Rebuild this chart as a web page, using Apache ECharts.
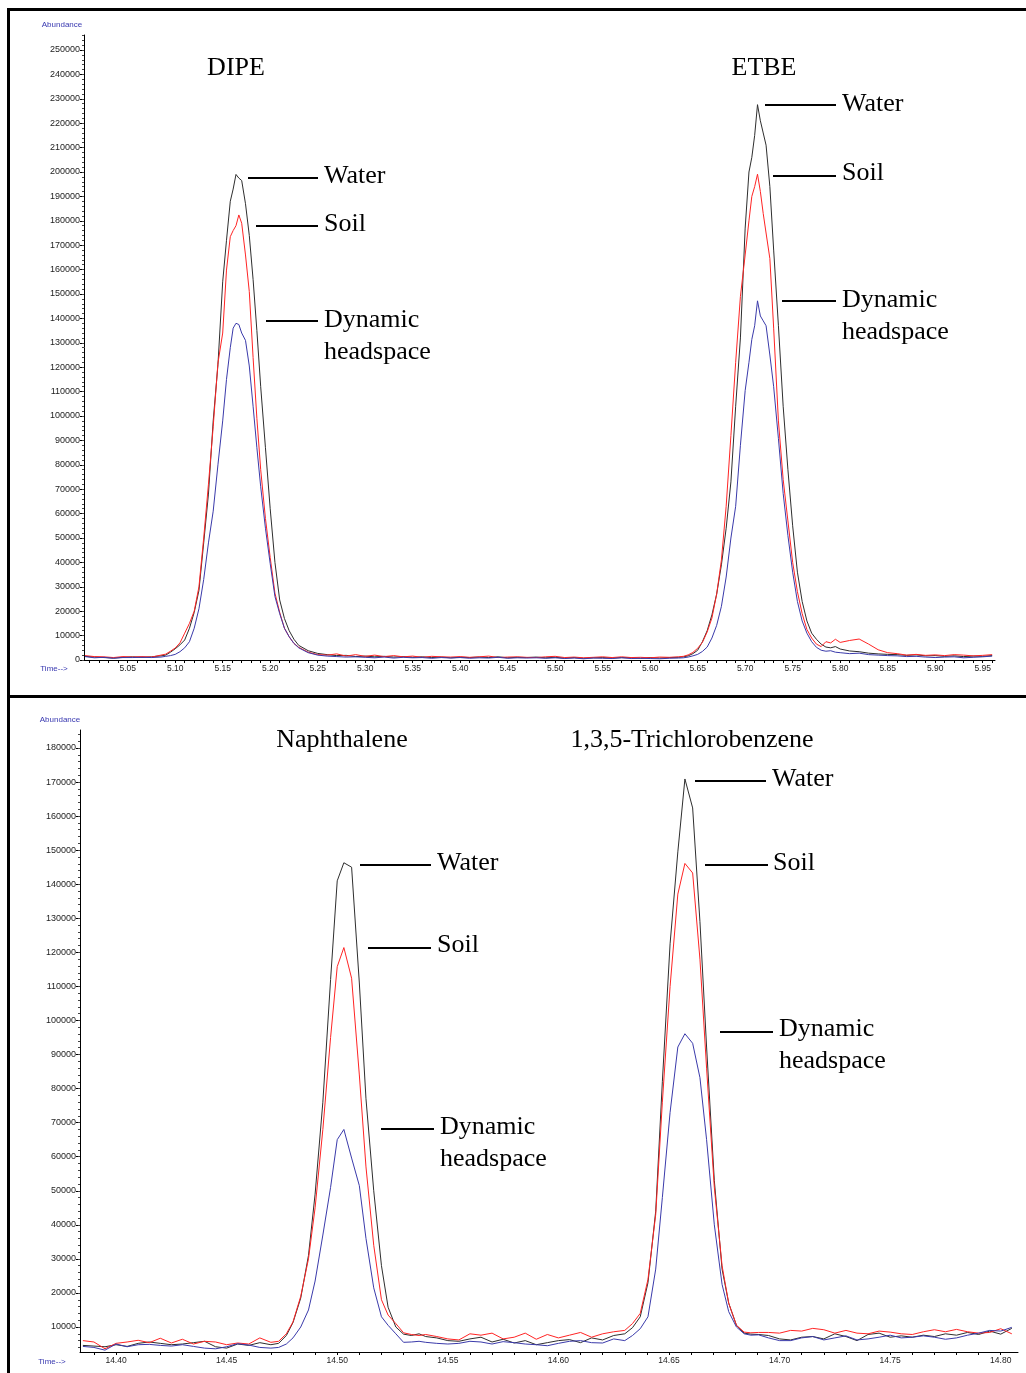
<!DOCTYPE html>
<html><head><meta charset="utf-8">
<script src="https://cdn.jsdelivr.net/npm/echarts@6/dist/echarts.min.js"></script>
<style>html,body{margin:0;padding:0;background:#fff}#c{width:1026px;height:1373px}</style>
</head><body><div id="c"></div><script>
// ---------- TOP PANEL (DIPE / ETBE) ----------
const topTime = [
  5.005,5.015,5.025,5.035,5.045,5.055,5.065,5.075,5.085,
  5.090,5.095,5.100,5.105,5.110,5.115,5.120,5.125,5.130,5.135,5.140,5.145,5.150,5.154,5.158,5.161,5.164,5.167,5.170,5.174,5.178,5.182,5.186,5.190,5.195,5.200,5.205,5.210,5.215,5.220,5.225,5.230,5.240,5.250,
  5.260,5.270,5.280,5.290,5.300,5.310,5.320,5.330,5.340,5.350,5.360,5.370,5.380,5.390,5.400,5.410,5.420,5.430,5.440,5.450,5.460,5.470,5.480,5.490,5.500,5.510,5.520,5.530,5.540,5.550,5.560,5.570,5.580,5.590,5.600,5.610,5.620,5.630,
  5.635,5.640,5.645,5.650,5.655,5.660,5.665,5.670,5.675,5.680,5.685,5.690,5.695,5.700,5.704,5.707,5.710,5.713,5.716,5.719,5.722,5.726,5.730,5.735,5.740,5.745,5.750,5.755,5.760,5.765,5.770,5.775,5.780,5.785,5.790,5.795,5.800,5.810,5.820,5.830,5.840,5.850,
  5.860,5.870,5.880,5.890,5.900,5.910,5.920,5.930,5.940,5.950,5.960
];
const topWater = [
  1500,1200,1000,800,1100,1300,1100,1300,1700,
  2000,3200,4600,6200,8200,13000,19500,28500,48000,68000,98000,121000,155000,172000,188000,193000,199000,197500,196500,187000,174000,156000,135000,112000,87000,62000,40000,24600,17000,12000,8500,6000,3800,2700,
  2200,1800,1900,1400,1600,1300,1500,1200,1400,1100,1300,1000,1200,900,1100,1000,1200,1000,1300,900,1100,1000,1200,900,1100,800,1000,700,900,1000,800,1000,900,700,1000,800,1000,1100,
  1300,1700,2600,4000,7500,12000,18500,27000,39000,54000,73000,104000,132000,177000,200000,206000,215000,227600,221000,216000,211000,194000,168000,137000,104000,78000,55000,36000,24000,16000,11000,8500,6500,5300,5000,5500,4500,3700,3400,2800,2500,2300,
  2200,1900,2100,1700,1800,1500,1700,1400,1600,1500,1800
];
const topSoil = [
  1800,1400,1300,1000,1400,1200,1400,1200,2000,
  2400,3600,4900,7000,11000,15000,20000,30000,50000,72000,95600,121700,134000,159800,173500,176000,178000,182400,179000,166000,151000,124000,99000,78000,58000,42000,27400,19500,13000,9500,6800,5200,3200,2200,
  2000,2500,1600,2200,1500,2000,1400,1800,1300,1600,1100,1500,1300,1200,1400,1100,1300,1600,1000,1200,1300,1100,1000,1300,1500,1000,1200,900,1100,1300,1000,1300,1000,1100,900,1200,1100,1300,
  1500,2100,3100,4800,7200,11500,17200,27000,41000,63000,92000,122000,149000,166000,180000,190000,194000,199100,192000,183000,175000,164500,136000,98000,74000,57000,40000,28000,19000,12500,9000,6500,5500,7500,7000,8500,7200,8000,8600,6500,4200,3000,
  2600,2000,2300,1900,2100,1800,2200,2000,1700,1900,2200
];
const topDynamic = [
  1400,900,1100,700,1000,1000,1100,1000,1200,
  1500,1800,2300,3400,5000,7500,13000,21000,33000,48000,61000,80000,98000,115000,128000,136000,138000,137500,134000,131000,120500,104000,87000,71000,54000,39500,26000,19000,13000,9500,6800,5000,3000,2000,
  1600,1400,1200,1300,1100,900,1200,800,1100,900,1000,700,1000,800,1000,700,900,800,1100,700,900,800,900,700,900,600,800,500,800,700,600,900,600,700,600,500,700,800,
  900,1200,1700,2300,3500,5300,9000,14200,22000,34000,50000,63000,88000,110400,122000,131400,137000,147200,141000,139000,137000,125000,112000,90800,68300,51000,36000,24000,16000,11000,7500,5200,4000,3600,3800,3200,3000,2600,2800,2200,2000,1800,
  1700,1400,1500,1200,1000,1200,1300,900,1100,1300,1600
];
const topXLabels = [5.05,5.10,5.15,5.20,5.25,5.30,5.35,5.40,5.45,5.50,5.55,5.60,5.65,5.70,5.75,5.80,5.85,5.90,5.95];
const topYLabels = [0,10000,20000,30000,40000,50000,60000,70000,80000,90000,100000,110000,120000,130000,140000,150000,160000,170000,180000,190000,200000,210000,220000,230000,240000,250000];

// ---------- BOTTOM PANEL (Naphthalene / 1,3,5-Trichlorobenzene) ----------
const bottomTime = [
  14.385,14.390,14.395,14.400,14.405,14.410,14.415,14.420,14.425,14.430,14.435,14.440,14.445,14.450,14.455,14.460,14.465,
  14.470,14.4735,14.477,14.480,14.4835,14.487,14.490,14.4935,14.497,14.500,14.503,14.5065,14.510,14.513,14.5165,14.520,14.523,14.5265,14.530,14.5335,14.537,
  14.540,14.545,14.550,14.555,14.560,14.565,14.570,14.575,14.580,14.585,14.590,14.595,14.600,14.605,14.610,14.615,14.620,14.625,
  14.630,14.6335,14.637,14.6405,14.644,14.647,14.6505,14.654,14.6572,14.6607,14.664,14.667,14.6705,14.674,14.677,14.6805,14.684,14.687,14.6905,
  14.695,14.700,14.705,14.710,14.715,14.720,14.725,14.730,14.735,14.740,14.745,14.750,14.755,14.760,14.765,14.770,14.775,14.780,14.785,14.790,14.795,14.800,14.805
];
const bottomWater = [
  4600,4400,4200,4800,4300,5200,5600,5200,4800,5000,5400,5800,4200,3800,5000,4600,5400,
  4800,5200,7500,11300,18500,31000,49000,76000,112000,141000,146300,145000,111000,77000,50000,28000,15800,10000,7900,7500,8000,
  7200,6800,6000,5800,6500,7000,5600,6400,5300,6000,4800,5400,6000,6300,5400,6800,6200,7500,
  8000,9800,13000,23000,44000,82000,122500,149500,170900,162400,129000,92200,53000,27000,17000,10500,8200,7900,7800,
  7500,6500,6200,7000,7200,6500,8000,7200,6000,7800,8200,7000,7400,7000,7600,7200,8000,7600,8400,7800,8800,7900,9600
];
const bottomSoil = [
  6000,5600,3600,5200,5600,6100,5400,6700,5300,6400,5000,5800,5600,4800,5300,5000,6800,
  5500,5800,8000,11500,19000,30000,45000,68000,95000,115800,121400,112400,84000,57000,34000,18000,13500,11000,8300,7800,7500,
  7800,7200,6500,6200,8000,7600,8200,6500,7000,8200,6400,7800,6800,7600,8400,7000,8000,8600,
  9000,11000,14000,24000,43000,76000,110000,137100,146100,143300,118000,86000,51000,28000,17000,10500,8500,8300,8400,
  8400,8200,9000,8800,9600,9200,8200,9000,8200,8000,8800,8500,8000,7800,8600,9200,8600,9300,8600,8200,8400,9500,8000
];
const bottomDynamic = [
  4300,4000,3200,5000,4200,4800,4900,4600,4400,4800,4300,3800,3600,4200,5100,4700,4000,
  3800,4000,5000,6800,10000,15000,23500,37000,51000,65000,68000,59600,51500,36000,21500,13000,10500,8000,5500,5600,5800,
  5500,5200,5000,5200,5800,5600,5000,5700,5400,5000,4800,4500,5200,5800,6000,5400,5300,6500,
  6000,7500,9500,13000,27000,48000,73000,92200,96100,93300,83200,65000,40000,22500,14500,10000,8000,7600,7700,
  6800,6000,6000,6800,7200,6200,6800,7400,6200,6500,7000,7600,6800,7000,7400,7000,6400,6800,7600,8200,9000,8800,9900
];
const bottomXLabels = [14.40,14.45,14.50,14.55,14.60,14.65,14.70,14.75,14.80];
const bottomYLabels = [10000,20000,30000,40000,50000,60000,70000,80000,90000,100000,110000,120000,130000,140000,150000,160000,170000,180000];

// ---------- helpers ----------
function pairs(t, v) { return t.map((x, i) => [x, v[i]]); }
function minorBetween(labels, step, sub, lo, hi) {
  const out = [];
  const first = labels[0] - step, last = labels[labels.length - 1] + step;
  const n = Math.round((last - first) / (step / sub));
  for (let k = 0; k <= n; k++) {
    const v = Math.round((first + k * step / sub) * 1e6) / 1e6;
    if (v >= lo && v <= hi) out.push(v);
  }
  return out;
}
const topXTicks = minorBetween(topXLabels, 0.05, 5, 5.004, 5.963);
const bottomXTicks = minorBetween(bottomXLabels, 0.05, 5, 14.3837, 14.8078);
const topYMinor = minorBetween(topYLabels, 10000, 5, 0, 256150);
const bottomYMinor = minorBetween(bottomYLabels, 10000, 5, 2660, 185280);

const cWater = '#2e2e2e', cSoil = '#ff2424', cDyn = '#3a3aaa';
const tickFont = 'Liberation Sans';

function xAxisCfg(grid, min, max, ticks, labels) {
  return {
    gridIndex: grid, type: 'value', min: min, max: max,
    axisLine: { show: true, onZero: false, lineStyle: { color: '#000', width: 1 } },
    axisTick: { show: true, customValues: ticks, length: 3, lineStyle: { color: '#000', width: 1 } },
    axisLabel: { show: true, customValues: labels, formatter: v => v.toFixed(2), fontSize: 8.5, color: '#222', margin: 4, fontFamily: tickFont },
    splitLine: { show: false }
  };
}
function yAxisCfg(grid, min, max, labels) {
  return {
    gridIndex: grid, type: 'value', min: min, max: max,
    axisLine: { show: true, onZero: false, lineStyle: { color: '#000', width: 1 } },
    axisTick: { show: true, customValues: labels, length: 4, lineStyle: { color: '#000', width: 1 } },
    axisLabel: { show: true, customValues: labels, formatter: v => String(v), fontSize: 9, color: '#222', margin: 4, fontFamily: tickFont },
    splitLine: { show: false }
  };
}
function yMinorCfg(grid, min, max, ticks) {
  return {
    gridIndex: grid, type: 'value', min: min, max: max, position: 'left',
    axisLine: { show: false },
    axisTick: { show: true, customValues: ticks, length: 2, lineStyle: { color: '#444', width: 1 } },
    axisLabel: { show: false },
    splitLine: { show: false }
  };
}
function lineSeries(name, xi, yi, t, v, color) {
  return {
    name: name, type: 'line', xAxisIndex: xi, yAxisIndex: yi,
    data: pairs(t, v), showSymbol: false, symbol: 'none',
    lineStyle: { color: color, width: 1 }, itemStyle: { color: color },
    animation: false, silent: true
  };
}

const serif = '"Liberation Serif", "Times New Roman", serif';
function label(x, y, text, align) {
  return { type: 'text', x: x, y: y, silent: true,
    style: { text: text, font: '26px ' + serif, fill: '#000', textAlign: align || 'left', textVerticalAlign: 'middle' } };
}
function leader(x1, x2, y) {
  return { type: 'line', silent: true, shape: { x1: x1, y1: y, x2: x2, y2: y }, style: { stroke: '#000', lineWidth: 2 } };
}
function small(x, y, text) {
  return { type: 'text', x: x, y: y, silent: true,
    style: { text: text, font: '8px "Liberation Sans", Arial, sans-serif', fill: '#3838b0', textAlign: 'center', textVerticalAlign: 'middle' } };
}
function bar(x, y, w, h) {
  return { type: 'rect', silent: true, shape: { x: x, y: y, width: w, height: h }, style: { fill: '#000' } };
}

const chart = echarts.init(document.getElementById('c'), null, { renderer: 'canvas' });
chart.setOption({
  backgroundColor: '#fff',
  animation: false,
  grid: [
    { left: 84, top: 35, width: 911, height: 625, containLabel: false, outerBoundsMode: 'none' },
    { left: 80, top: 730, width: 938, height: 622, containLabel: false, outerBoundsMode: 'none' }
  ],
  xAxis: [
    xAxisCfg(0, 5.004, 5.963, topXTicks, topXLabels),
    xAxisCfg(1, 14.3837, 14.8078, bottomXTicks, bottomXLabels)
  ],
  yAxis: [
    yAxisCfg(0, 0, 256150, topYLabels),
    yMinorCfg(0, 0, 256150, topYMinor),
    Object.assign(yAxisCfg(1, 2660, 185280, bottomYLabels), {}),
    yMinorCfg(1, 2660, 185280, bottomYMinor)
  ],
  series: [
    lineSeries('Water', 0, 0, topTime, topWater, cWater),
    lineSeries('Soil', 0, 0, topTime, topSoil, cSoil),
    lineSeries('Dynamic headspace', 0, 0, topTime, topDynamic, cDyn),
    lineSeries('Water', 1, 2, bottomTime, bottomWater, cWater),
    lineSeries('Soil', 1, 2, bottomTime, bottomSoil, cSoil),
    lineSeries('Dynamic headspace', 1, 2, bottomTime, bottomDynamic, cDyn)
  ],
  graphic: [
    bar(7, 8, 1019, 3), bar(7, 8, 3, 1365), bar(7, 695, 1019, 3),
    small(62, 25, 'Abundance'), small(54, 669, 'Time-->'),
    small(60, 720, 'Abundance'), small(52, 1362, 'Time-->'),
    label(236, 68, 'DIPE', 'center'), label(764, 68, 'ETBE', 'center'),
    leader(248, 318, 178), label(324, 176, 'Water'),
    leader(256, 318, 226), label(324, 224, 'Soil'),
    leader(266, 318, 321), label(324, 320, 'Dynamic'), label(324, 352, 'headspace'),
    leader(765, 836, 105), label(842, 104, 'Water'),
    leader(773, 836, 176), label(842, 173, 'Soil'),
    leader(782, 836, 301), label(842, 300, 'Dynamic'), label(842, 332, 'headspace'),
    label(342, 740, 'Naphthalene', 'center'), label(692, 740, '1,3,5-Trichlorobenzene', 'center'),
    leader(360, 431, 865), label(437, 863, 'Water'),
    leader(368, 431, 948), label(437, 945, 'Soil'),
    leader(381, 434, 1129), label(440, 1127, 'Dynamic'), label(440, 1159, 'headspace'),
    leader(695, 766, 781), label(772, 779, 'Water'),
    leader(705, 768, 865), label(773, 863, 'Soil'),
    leader(720, 773, 1032), label(779, 1029, 'Dynamic'), label(779, 1061, 'headspace')
  ]
});
</script></body></html>
